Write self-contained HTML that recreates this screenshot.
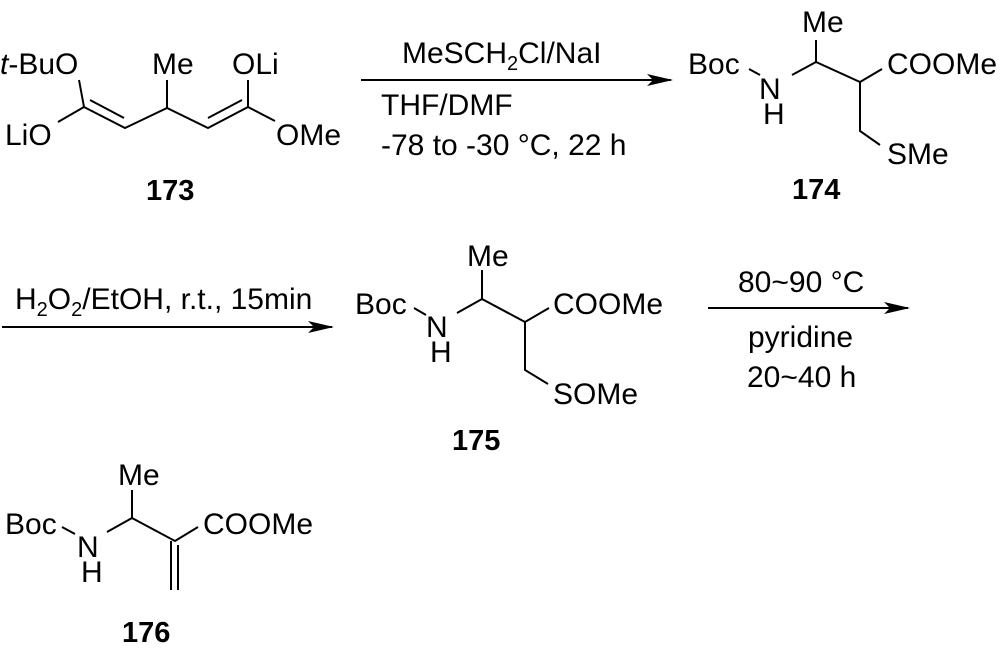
<!DOCTYPE html>
<html><head><meta charset="utf-8"><style>
html,body{margin:0;padding:0;background:#fff;}
svg{display:block;}
text{font-family:"Liberation Sans",Arial,sans-serif;font-size:30px;fill:#000;}
.b{font-weight:bold;font-size:29px;}
</style></head><body>
<svg width="1000" height="652" viewBox="0 0 1000 652" xmlns="http://www.w3.org/2000/svg">
<defs><marker id="ah" markerWidth="26" markerHeight="12" refX="24" refY="6" orient="auto" markerUnits="userSpaceOnUse"><path d="M0,0 L26,6 L0,12 L6,6 Z" fill="#000"/></marker></defs>
<g stroke="#000" stroke-width="2" fill="none">
<path d="M79,80 L84,107 L58,122 M84,107 L125,128 L167,108 L208,128 L248,107 L275,121 M167,108 L167,80 M248,107 L248,80"/>
<path d="M90,100 L124,118 M208,118 L242,100"/>
<line x1="361" y1="80" x2="671" y2="80" marker-end="url(#ah)"/>
<path d="M749,69 L760,75 M792,75 L816,62 L860,82 L882,69 M816,62 L816,40 M860,82 L860,131 L880,145"/>
<line x1="2" y1="327" x2="332" y2="327" marker-end="url(#ah)"/>
<path d="M414,308 L426,315 M457,313 L482,299 L525,322 L549,308 M482,299 L482,270 M525,322 L525,370 L548,384"/>
<line x1="708" y1="308" x2="908" y2="308" marker-end="url(#ah)"/>
<path d="M62,527 L75,534 M107,532 L132,518 L175,541 L198,527 M132,518 L132,490 M171,541 L171,590 M178,545 L178,590"/>
</g>
<text x="0" y="74"><tspan font-style="italic">t</tspan>-BuO</text>
<text x="5" y="145">LiO</text>
<text x="152" y="74">Me</text>
<text x="232" y="74">OLi</text>
<text x="276" y="145">OMe</text>
<text class="b" x="146" y="200">173</text>
<text x="402" y="63">MeSCH<tspan font-size="20" dy="7">2</tspan><tspan dy="-7">Cl/NaI</tspan></text>
<text x="381" y="115">THF/DMF</text>
<text x="381" y="155">-78 to -30 °C, 22 h</text>
<text x="688" y="74">Boc</text>
<text x="759" y="99">N</text>
<text x="763" y="124">H</text>
<text x="802" y="32">Me</text>
<text x="887" y="74">COOMe</text>
<text x="887" y="164">SMe</text>
<text class="b" x="792" y="199">174</text>
<text x="15" y="309">H<tspan font-size="20" dy="7">2</tspan><tspan dy="-7">O</tspan><tspan font-size="20" dy="7">2</tspan><tspan dy="-7">/EtOH, r.t., 15min</tspan></text>
<text x="355" y="314">Boc</text>
<text x="426" y="337">N</text>
<text x="430" y="362">H</text>
<text x="467" y="266">Me</text>
<text x="553" y="314">COOMe</text>
<text x="553" y="404">SOMe</text>
<text class="b" x="452" y="450">175</text>
<text x="738" y="292">80~90 °C</text>
<text x="748" y="347">pyridine</text>
<text x="747" y="387">20~40 h</text>
<text x="5" y="534">Boc</text>
<text x="77" y="557">N</text>
<text x="81" y="582">H</text>
<text x="118" y="485">Me</text>
<text x="203" y="534">COOMe</text>
<text class="b" x="122" y="642">176</text>
</svg>
</body></html>
